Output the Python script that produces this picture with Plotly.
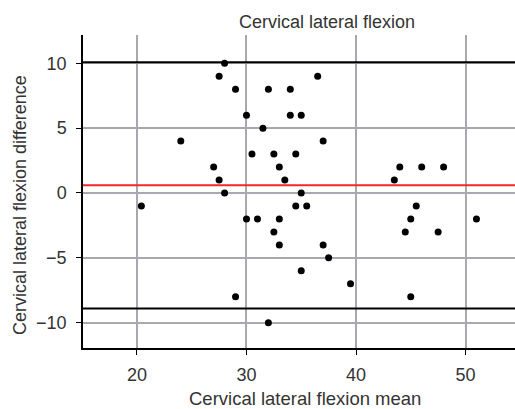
import plotly.graph_objects as go

mean_vals = [28, 27.5, 36.5, 29, 32, 34, 30, 34, 35, 31.5, 24, 37, 30.5, 32.5, 34.5,
             27, 33, 44, 46, 48, 27.5, 33.5, 43.5, 28, 35, 20.4, 34.5, 35.5, 45.5,
             30, 31, 33, 45, 51, 32.5, 44.5, 47.5, 33, 37, 37.5, 35, 39.5, 29, 45, 32]
diff_vals = [10, 9, 9, 8, 8, 8, 6, 6, 6, 5, 4, 4, 3, 3, 3,
             2, 2, 2, 2, 2, 1, 1, 1, 0, 0, -1, -1, -1, -1,
             -2, -2, -2, -2, -2, -3, -3, -3, -4, -4, -5, -6, -7, -8, -8, -10]
bias = 0.6
upper_loa = 10.08
lower_loa = -8.9
x_ticks = [20, 30, 40, 50]
y_ticks = [-10, -5, 0, 5, 10]

fig = go.Figure()
fig.add_trace(go.Scatter(x=mean_vals, y=diff_vals, mode="markers",
                         marker=dict(color="black", size=7), showlegend=False))

fig.add_hline(y=upper_loa, line=dict(color="black", width=2))
fig.add_hline(y=lower_loa, line=dict(color="black", width=2))
fig.add_hline(y=bias, line=dict(color="#ee2a2a", width=2))

txt = "#333333"
fig.update_layout(
    width=515, height=409,
    margin=dict(l=83, r=0, t=35, b=61),
    plot_bgcolor="white", paper_bgcolor="white",
    font=dict(family="Liberation Sans, Arial, sans-serif", color=txt, size=15),
)
W, H = 432, 313
fig.add_annotation(text="Cervical lateral flexion", xref="paper", yref="paper",
                   x=(327 - 83) / W, y=(348 - 22) / H, showarrow=False,
                   xanchor="center", yanchor="middle", font=dict(size=18, color=txt))
fig.add_annotation(text="Cervical lateral flexion mean", xref="paper", yref="paper",
                   x=(305 - 83) / W, y=(348 - 398) / H, showarrow=False,
                   xanchor="center", yanchor="middle", font=dict(size=18.5, color=txt))
fig.add_annotation(text="Cervical lateral flexion difference", xref="paper", yref="paper",
                   x=(20 - 83) / W, y=(348 - 205) / H, showarrow=False, textangle=-90,
                   xanchor="center", yanchor="middle", font=dict(size=18, color=txt))

fig.update_xaxes(range=[15.07, 54.52], tickvals=x_ticks, showgrid=True,
                 gridcolor="#a8a8b0", gridwidth=1.5, zeroline=False,
                 showline=True, linecolor="black", linewidth=1.5,
                 ticks="outside", ticklen=5, tickcolor="black",
                 ticklabelstandoff=5,
                 tickfont=dict(size=18, color=txt))
fig.update_yaxes(range=[-11.95, 12.18], tickvals=y_ticks, showgrid=True,
                 gridcolor="#a8a8b0", gridwidth=1.5, zeroline=False,
                 showline=True, linecolor="black", linewidth=1.5,
                 ticks="outside", ticklen=5, tickcolor="black",
                 ticklabelstandoff=6,
                 tickfont=dict(size=18, color=txt))

fig.write_html("out.html")
